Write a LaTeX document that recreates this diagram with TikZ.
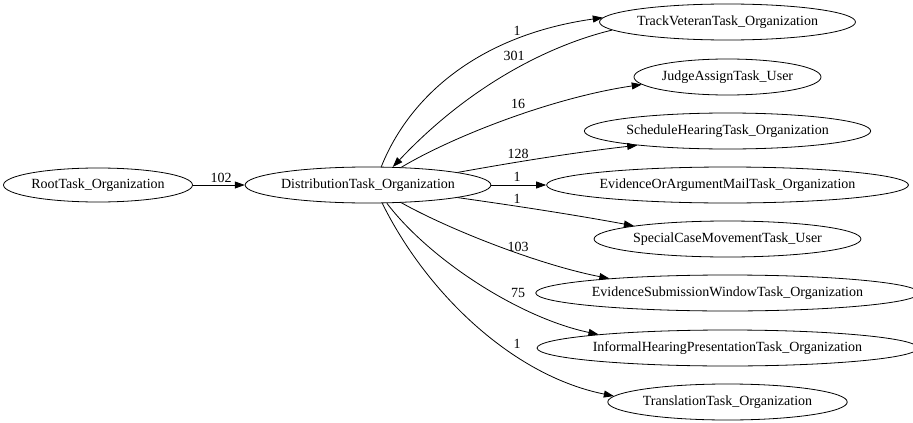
\documentclass[tikz,border=0pt]{standalone}
\usepackage{fontspec}
\setmainfont{Liberation Serif}
\usetikzlibrary{shapes.geometric,arrows.meta}
\begin{document}
\begin{tikzpicture}[x=1pt,y=-1pt,
  tnode/.style={draw,ellipse,inner sep=0pt,line width=0.8pt,font=\fontsize{14}{16}\selectfont},
  elab/.style={inner sep=0pt,font=\fontsize{14}{16}\selectfont},
  edge/.style={draw,line width=0.8pt,-{Triangle[length=10pt,width=7pt]}}]
\useasboundingbox (0,0) rectangle (913,423);
\node[tnode,minimum width=189pt,minimum height=34pt] (root) at (98,185) {RootTask\_Organization};
\node[tnode,minimum width=238pt,minimum height=36pt] (dist) at (368,185) {DistributionTask\_Organization};
\node[tnode,minimum width=249pt,minimum height=36pt] (tv) at (727.5,22) {TrackVeteranTask\_Organization};
\node[tnode,minimum width=187pt,minimum height=36pt] (ja) at (727.5,77) {JudgeAssignTask\_User};
\node[tnode,minimum width=277pt,minimum height=36pt] (sh) at (727.5,131) {ScheduleHearingTask\_Organization};
\node[tnode,minimum width=345pt,minimum height=36pt] (eoa) at (727.5,185) {EvidenceOrArgumentMailTask\_Organization};
\node[tnode,minimum width=259pt,minimum height=36pt] (scm) at (727.5,239) {SpecialCaseMovementTask\_User};
\node[tnode,minimum width=363pt,minimum height=36pt] (esw) at (727.5,293) {EvidenceSubmissionWindowTask\_Organization};
\node[tnode,minimum width=363pt,minimum height=36pt] (ihp) at (727.5,348) {InformalHearingPresentationTask\_Organization};
\node[tnode,minimum width=236pt,minimum height=36pt] (tr) at (727.5,402) {TranslationTask\_Organization};

\draw[edge] (root) -- (dist);
\node[elab] (l102) at (221,178) {102};

\draw[edge] (dist.54) .. controls (410,95) and (480,35) .. (tv.178);
\node[elab] (l1a) at (517,31) {1};

\draw[edge] (tv.184) .. controls (550,45) and (470,85) .. (dist.36);
\node[elab] (l301) at (514,56) {301};

\draw[edge] (dist.28) .. controls (450,138) and (550,98) .. (ja.185);
\node[elab] (l16) at (518,104) {16};

\draw[edge] (dist.8) .. controls (510,163) and (570,153) .. (sh.189);
\node[elab] (l128) at (518,154) {128};

\draw[edge] (dist) -- (eoa);
\node[elab] (l1b) at (517,177) {1};

\draw[edge] (dist.-8) .. controls (510,205) and (570,214) .. (scm.172);
\node[elab] (l1c) at (517,199) {1};

\draw[edge] (dist.-28) .. controls (450,230) and (540,265) .. (esw.173);
\node[elab] (l103) at (518,247) {103};

\draw[edge] (dist.-44) .. controls (430,260) and (520,318) .. (ihp.174);
\node[elab] (l75) at (518,293) {75};

\draw[edge] (dist.-52) .. controls (425,290) and (510,375) .. (tr.177);
\node[elab] (l1d) at (517,344) {1};
\end{tikzpicture}
\end{document}
